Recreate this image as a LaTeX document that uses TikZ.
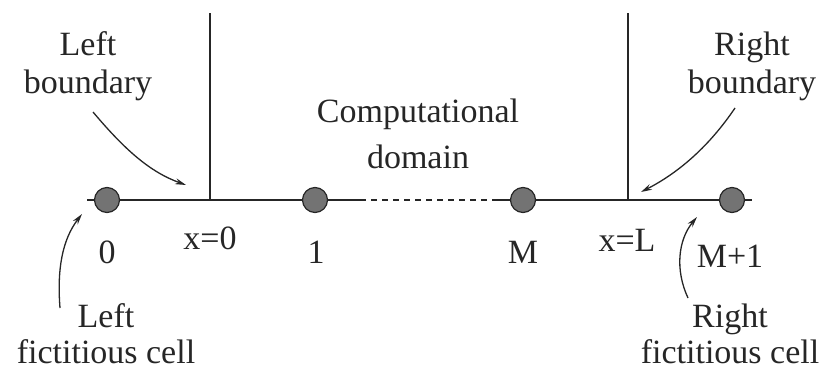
\documentclass[tikz,border=0pt]{standalone}
\usepackage{fontspec}
\setmainfont{Liberation Serif}
\usetikzlibrary{arrows.meta}
\begin{document}
\begin{tikzpicture}[x=1pt,y=-1pt,
  txt/.style={text=black!85,font=\fontsize{34}{40}\selectfont,inner sep=0pt,align=center},
  cell/.style={circle,minimum size=25pt,inner sep=0pt,fill=black!55,draw=black!85,line width=1.2pt},
  axis/.style={line width=1.6pt,black!85},
  pointer/.style={line width=1.3pt,black!85,-{Stealth[length=11pt,width=6pt,fill=black!45]}}]
\useasboundingbox (0,0) rectangle (827,370);

% axis ends and boundary walls
\coordinate (axl) at (87,200);
\coordinate (axr) at (752,200);
\coordinate (ds) at (360,200);
\coordinate (de) at (495,200);
\coordinate (wl) at (210,200);
\coordinate (wlt) at (210,13);
\coordinate (wr) at (628,200);
\coordinate (wrt) at (628,13);

\draw[axis] (axl) -- (ds);
\draw[axis,dashed,dash pattern=on 6pt off 5pt] (ds) -- (de);
\draw[axis] (de) -- (axr);
\draw[axis] (wl) -- (wlt);
\draw[axis] (wr) -- (wrt);

% cells
\node[cell] (c0) at (107,200) {};
\node[cell] (c1) at (315,200) {};
\node[cell] (cM) at (523,200) {};
\node[cell] (cM1) at (732,200) {};

% index labels
\node[txt] (l0) at (107,252) {0};
\node[txt] (lx0) at (210,238) {x=0};
\node[txt] (l1) at (316,252) {1};
\node[txt] (lM) at (523,252) {M};
\node[txt] (lxL) at (627,240) {x=L};
\node[txt] (lM1) at (730,256) {M+1};

% descriptive labels
\node[txt] (lb) at (88,66) {Left\\[-2pt]boundary};
\node[txt] (cd) at (418,134) {Computational\\[6pt]domain};
\node[txt] (rb) at (752,66) {Right\\[-2pt]boundary};
\node[txt] (lf) at (106,334) {Left\\[-4pt]fictitious cell};
\node[txt] (rf) at (730,334) {Right\\[-4pt]fictitious cell};

% pointers
\coordinate (lbt) at (93,112);
\coordinate (lbh) at (186,185);
\draw[pointer] (lbt) .. controls (125,150) and (150,172) .. (lbh);
\coordinate (rbt) at (735,108);
\coordinate (rbh) at (641,192);
\draw[pointer] (rbt) .. controls (710,145) and (680,172) .. (rbh);
\coordinate (lft) at (60,308);
\coordinate (lfh) at (82,214);
\draw[pointer] (lft) .. controls (57,270) and (62,240) .. (lfh);
\coordinate (rft) at (688,298);
\coordinate (rfh) at (697,217);
\draw[pointer] (rft) .. controls (675,270) and (678,240) .. (rfh);
\end{tikzpicture}
\end{document}
